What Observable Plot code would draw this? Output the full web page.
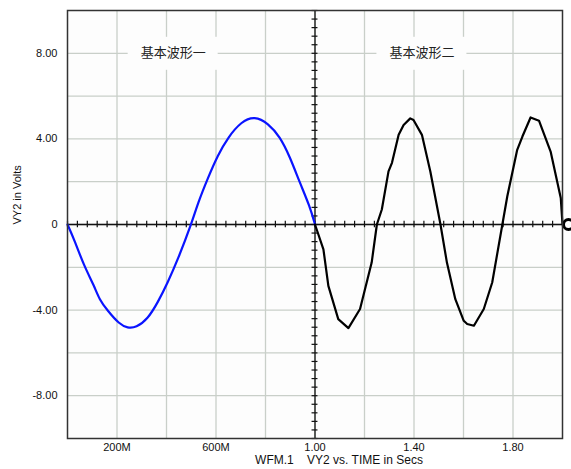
<!DOCTYPE html>
<html>
<head>
<meta charset="utf-8">
<script src="https://cdn.jsdelivr.net/npm/d3@7"></script>
<script src="https://cdn.jsdelivr.net/npm/@observablehq/plot@0.6"></script>
<style>
  html, body { margin: 0; padding: 0; background: #ffffff; }
  #chart svg { display: block; }
</style>
</head>
<body>
<div id="chart"></div>
<script>
// ---- data ----
const blueT = [0, 0.027, 0.067, 0.108, 0.128, 0.162, 0.209, 0.243, 0.277, 0.324, 0.365, 0.405, 0.446, 0.5,
               0.527, 0.567, 0.608, 0.649, 0.702, 0.756, 0.811, 0.858, 0.898, 0.939, 0.979, 1.0];
const blueV = [0, -0.70, -1.94, -2.87, -3.49, -4.03, -4.65, -4.84, -4.82, -4.42, -3.64, -2.71, -1.63, 0,
               1.01, 2.17, 3.26, 4.08, 4.81, 5.07, 4.73, 4.11, 3.18, 1.94, 0.85, 0];

const blackT = [1.0, 1.034, 1.054, 1.094, 1.135, 1.182, 1.229, 1.25, 1.27, 1.297, 1.311, 1.338, 1.358, 1.385,
                1.398, 1.432, 1.466, 1.507, 1.533, 1.567, 1.601, 1.615, 1.642, 1.682, 1.716, 1.757, 1.777,
                1.817, 1.838, 1.871, 1.905, 1.952, 1.993, 2.0];
const blackV = [0, -1.16, -2.87, -4.42, -4.84, -3.95, -1.78, 0, 0.7, 2.48, 2.88, 4.19, 4.65, 4.96,
                4.88, 4.19, 2.48, 0, -1.78, -3.49, -4.5, -4.65, -4.73, -3.95, -2.71, 0, 1.32,
                3.49, 4.11, 5.0, 4.85, 3.41, 1.24, 0];

const xTickValues = [0.2, 0.6, 1.0, 1.4, 1.8];
const xTickLabels = ["200M", "600M", "1.00", "1.40", "1.80"];
const yTickValues = [8, 4, 0, -4, -8];
const yTickLabels = ["8.00", "4.00", "0", "-4.00", "-8.00"];
const xGrid = [0.2, 0.4, 0.6, 0.8, 1.0, 1.2, 1.4, 1.6, 1.8];
const yGrid = [-8, -6, -4, -2, 0, 2, 4, 6, 8];
const xMinorTicks = d3.range(0, 2.0001, 0.04);
const yMinorTicks = d3.range(-10, 10.0001, 0.4);

const waveNames = ["基本波形一", "基本波形二"];
const waveLabelT = [0.427, 1.432];
const waveLabelV = [8.0, 8.0];

const yAxisTitle = "VY2 in Volts";
const xAxisTitle = "WFM.1    VY2 vs. TIME in Secs";

// ---- tables ----
const blue = blueT.map((t, i) => ({t, v: blueV[i]}));
const black = blackT.map((t, i) => ({t, v: blackV[i]}));
const labels = waveNames.map((name, i) => ({name, t: waveLabelT[i], v: waveLabelV[i]}));
const endPoint = [black[black.length - 1]];

const xFmt = new Map(xTickValues.map((v, i) => [v, xTickLabels[i]]));
const yFmt = new Map(yTickValues.map((v, i) => [v, yTickLabels[i]]));

const font = "'Liberation Sans', Arial, sans-serif";

const chart = Plot.plot({
  width: 571,
  height: 469,
  marginLeft: 67,
  marginRight: 9,
  marginTop: 10,
  marginBottom: 31,
  style: {fontFamily: font, fontSize: "11px", color: "#000", background: "#ffffff"},
  x: {domain: [0, 2], axis: null},
  y: {domain: [-10, 10], axis: null},
  marks: [
    Plot.frame({fill: "#fdfdfd", stroke: "none"}),
    Plot.ruleX(xGrid, {stroke: "#c9cfc9", strokeWidth: 1.3}),
    Plot.ruleY(yGrid, {stroke: "#c9cfc9", strokeWidth: 1.3}),
    // label background boxes
    Plot.rect(labels, {x1: "t", x2: "t", y1: "v", y2: "v",
      insetLeft: -45, insetRight: -45, insetTop: -16, insetBottom: -17,
      fill: "#fdfdfd"}),
    // crosshair axes
    Plot.ruleY([0], {stroke: "#111", strokeWidth: 1.3}),
    Plot.ruleX([1.0], {stroke: "#111", strokeWidth: 1.3}),
    Plot.ruleX(xMinorTicks, {x: d => d, y1: -0.15, y2: 0.15, stroke: "#111", strokeWidth: 1.2}),
    Plot.ruleY(yMinorTicks, {y: d => d, x1: 0.988, x2: 1.012, stroke: "#111", strokeWidth: 1.2}),
    // waves
    Plot.line(blue, {x: "t", y: "v", stroke: "#0a14ff", strokeWidth: 2.2, curve: "basis"}),
    Plot.line(black, {x: "t", y: "v", stroke: "#000", strokeWidth: 2.2}),
    Plot.dot(endPoint, {x: "t", y: "v", r: 5, dx: 6, stroke: "#000", strokeWidth: 3, fill: "#fff", clip: false}),
    // labels
    Plot.text(labels, {x: "t", y: "v", text: "name", fontSize: 13,
      fontFamily: "'Noto Sans CJK SC', sans-serif", fill: "#222"}),
    // frame
    Plot.frame({stroke: "#333", strokeWidth: 1.5}),
    // tick labels
    Plot.axisX(xTickValues, {tickSize: 0, tickPadding: 5, tickFormat: d => xFmt.get(d),
      fontSize: 11, fill: "#111", label: null}),
    Plot.axisY(yTickValues, {tickSize: 0, tickPadding: 10, tickFormat: d => yFmt.get(d),
      fontSize: 11, fill: "#111", label: null}),
    // axis titles
    Plot.text([yAxisTitle], {frameAnchor: "left", dx: -50, rotate: -90, fontSize: 11, fill: "#111"}),
    Plot.text([xAxisTitle], {frameAnchor: "bottom", dx: 24, dy: 25, fontSize: 12, fill: "#111"})
  ]
});

document.getElementById("chart").appendChild(chart);
</script>
</body>
</html>
